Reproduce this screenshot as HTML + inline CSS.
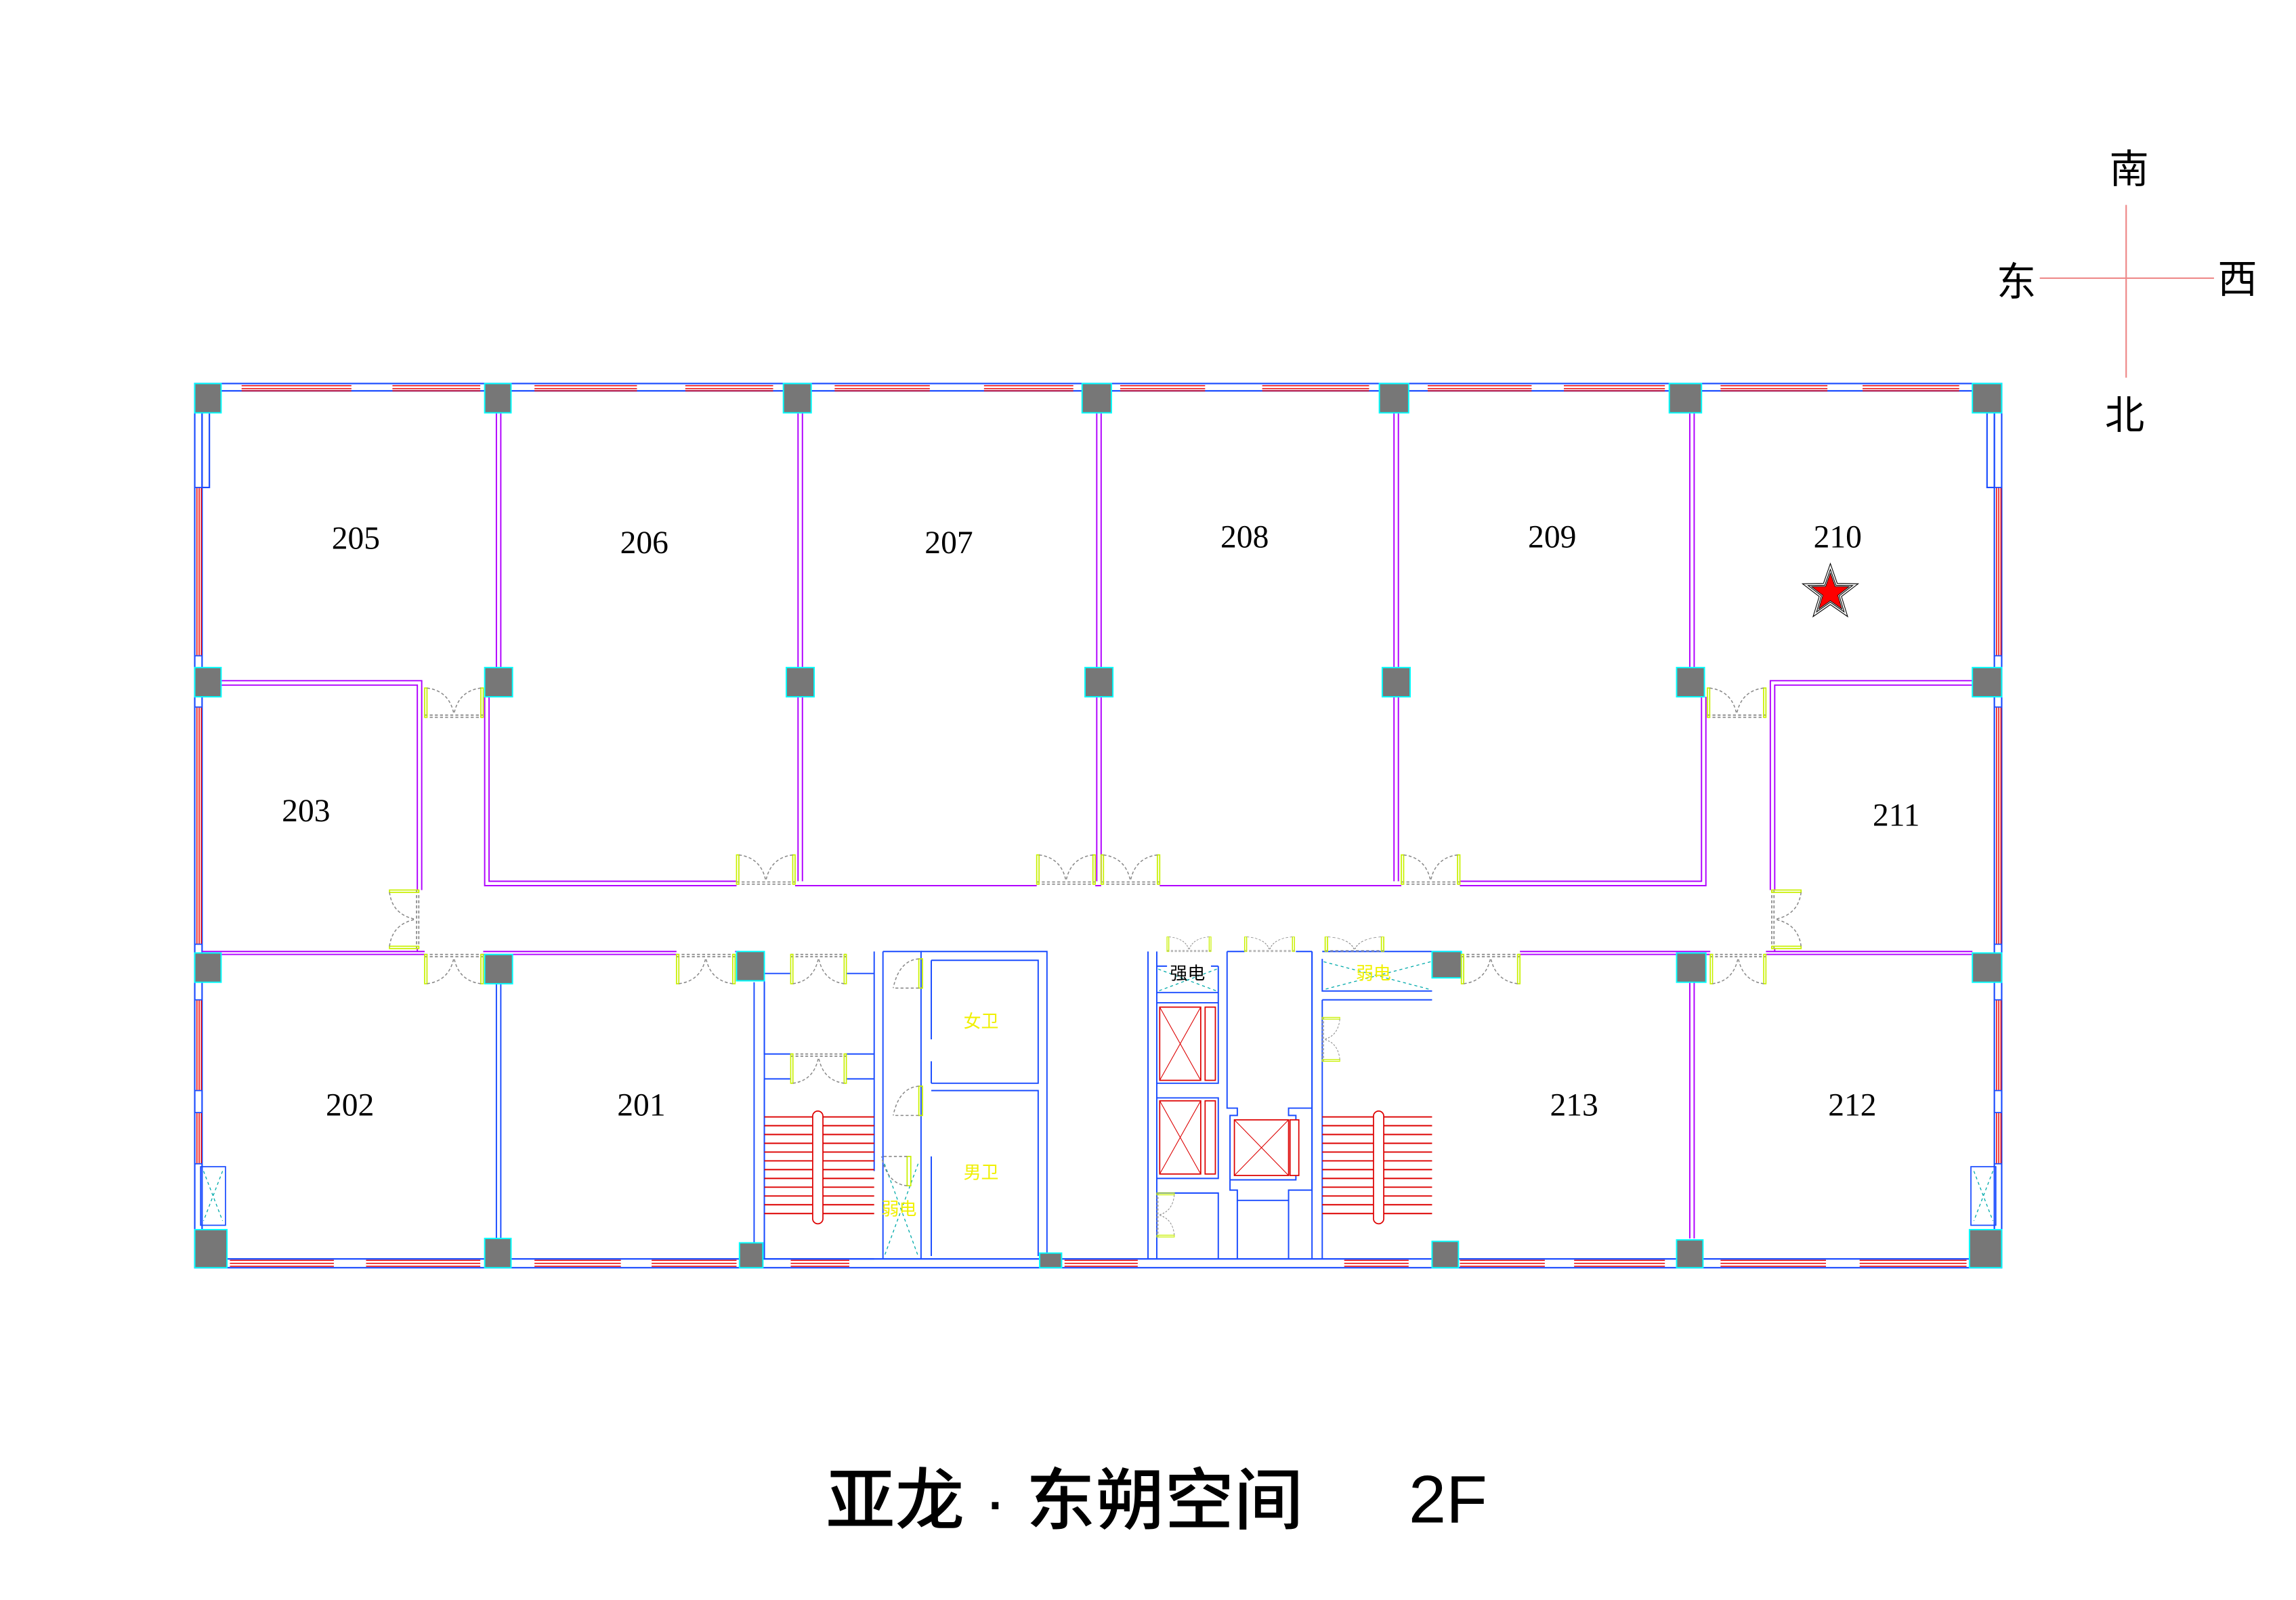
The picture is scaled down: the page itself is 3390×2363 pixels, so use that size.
<!DOCTYPE html>
<html><head><meta charset="utf-8"><style>
html,body{margin:0;padding:0;background:#fff;}
svg{display:block;}
</style></head><body>
<svg width="3390" height="2363" viewBox="0 0 1568 1093" preserveAspectRatio="none" xmlns="http://www.w3.org/2000/svg">
<defs>
<g id="dr">
<line x1="0" y1="0" x2="40" y2="0" stroke="#888" stroke-width="0.8" stroke-dasharray="2,1.5"/>
<line x1="0" y1="1.5" x2="40" y2="1.5" stroke="#888" stroke-width="0.8" stroke-dasharray="2,1.5"/>
<rect x="0" y="0" width="1.6" height="20" fill="none" stroke="#c8f000" stroke-width="0.8"/>
<rect x="38.4" y="0" width="1.6" height="20" fill="none" stroke="#c8f000" stroke-width="0.8"/>
<path d="M1.6 20 Q17 18 20 2 M38.4 20 Q23 18 20 2" fill="none" stroke="#888" stroke-width="0.7" stroke-dasharray="2,1.5"/>
</g>
<g id="sd">
<rect x="0" y="0" width="20" height="2.5" fill="none" stroke="#c8f000" stroke-width="0.8"/>
<path d="M0 2.5 V20 M20 2.5 Q19 16 0 20" fill="none" stroke="#888" stroke-width="0.7" stroke-dasharray="2,1.5"/>
</g>
</defs>

<!-- compass -->
<g stroke="#e88" stroke-width="1">
<line x1="1452" y1="140" x2="1452" y2="258"/>
<line x1="1393" y1="190" x2="1512" y2="190"/>
</g>
<g font-family="'Liberation Sans','Noto Sans CJK SC',sans-serif" font-size="27" fill="#000" text-anchor="middle">
<text x="1454" y="125">南</text>
<text x="1377" y="202">东</text>
<text x="1528" y="200">西</text>
<text x="1451" y="293">北</text>
</g>

<!-- outer walls -->
<g fill="none" stroke="#1a4cff" stroke-width="1">
<rect x="133" y="262" width="1234" height="604"/>
<line x1="133" y1="267" x2="1367" y2="267"/>
<line x1="133" y1="860" x2="1367" y2="860"/>
<line x1="138" y1="282" x2="138" y2="860"/>
<line x1="1362" y1="282" x2="1362" y2="860"/>
<path d="M138 282 V333 H143 V282"/>
<path d="M1362 282 V333 H1357 V282"/>
</g>
<g stroke="#e00" stroke-width="0.7">
<path d="M165 263.5H240M165 265.5H240M165 267H240 M268 263.5H328M268 265.5H328M268 267H328"/>
<path d="M365 263.5H435M365 265.5H435M365 267H435 M468 263.5H528M468 265.5H528M468 267H528"/>
<path d="M570 263.5H635M570 265.5H635M570 267H635 M672 263.5H733M672 265.5H733M672 267H733"/>
<path d="M765 263.5H823M765 265.5H823M765 267H823 M862 263.5H935M862 265.5H935M862 267H935"/>
<path d="M975 263.5H1046M975 265.5H1046M975 267H1046 M1068 263.5H1137M1068 265.5H1137M1068 267H1137"/>
<path d="M1175 263.5H1248M1175 265.5H1248M1175 267H1248 M1272 263.5H1338M1272 265.5H1338M1272 267H1338"/>
<path d="M157 861H228M157 863H228M157 865H228 M250 861H328M250 863H328M250 865H328"/>
<path d="M365 861H424M365 863H424M365 865H424 M445 861H503M445 863H503M445 865H503"/>
<path d="M540 861H580M540 863H580M540 865H580 M727 861H777M727 863H777M727 865H777"/>
<path d="M918 861H962M918 863H962M918 865H962"/>
<path d="M997 861H1055M997 863H1055M997 865H1055 M1075 861H1137M1075 863H1137M1075 865H1137"/>
<path d="M1175 861H1247M1175 863H1247M1175 865H1247 M1270 861H1343M1270 863H1343M1270 865H1343"/>
<path d="M134.5 333V448M136 333V448M137.5 333V448 M134.5 483V645M136 483V645M137.5 483V645 M134.5 683V745M136 683V745M137.5 683V745 M134.5 760V795M136 760V795M137.5 760V795"/>
<path d="M1363.5 333V448M1365 333V448M1366.5 333V448 M1363.5 483V645M1365 483V645M1366.5 483V645 M1363.5 683V745M1365 683V745M1366.5 683V745 M1363.5 760V795M1365 760V795M1366.5 760V795"/>
</g>
<g fill="none" stroke="#1a4cff" stroke-width="0.8">
<path d="M133 333H138 M133 448H138 M133 483H138 M133 645H138 M133 683H138 M133 745H138 M133 760H138 M133 795H138"/>
<path d="M1362 333H1367 M1362 448H1367 M1362 483H1367 M1362 645H1367 M1362 683H1367 M1362 745H1367 M1362 760H1367 M1362 795H1367"/>
<rect x="137" y="797" width="17" height="40"/>
<rect x="1346" y="797" width="17" height="40"/>
</g>

<!-- magenta partitions -->
<g fill="none" stroke="#b000ff" stroke-width="0.9">
<path d="M339 282V456 M342 282V456"/>
<path d="M545 282V456 M548 282V456"/>
<path d="M749 282V456 M752 282V456"/>
<path d="M952 282V456 M955 282V456"/>
<path d="M1154 282V456 M1157 282V456"/>
<path d="M331 476V605H503 M334 476V602H503"/>
<path d="M545 476V602 M548 476V602"/>
<path d="M749 476V602 M752 476V602"/>
<path d="M952 476V602 M955 476V602"/>
<path d="M543 605H708 M748 605H752 M792 605H957 M997 605H1165V476 M997 602H1162V476"/>
<path d="M151 465H288V608 M151 468H285V608"/>
<path d="M1347 465H1209V608 M1347 468H1212V608"/>
<path d="M138 650H290 M138 652H290 M330 650H462 M330 652H462 M502 650H505"/>
<path d="M978 650H998 M978 652H998 M1038 650H1168 M1038 652H1168 M1206 650H1347 M1206 652H1347"/>
<path d="M285 648V650 M1212 648V650"/>
<path d="M1154 671V846 M1157 671V846"/>
</g>
<g fill="none" stroke="#1a4cff" stroke-width="0.9">
<path d="M339 671V846 M342 671V846"/>
</g>

<!-- core -->
<g fill="none" stroke="#1a4cff" stroke-width="0.9">
<path d="M515 671V860 M522 671V860"/>
<path d="M522 665H540 M578 665H597V760 M603 650V860 M597 650V665 M522 665V720H540 M578 720H597 M522 737V860H597 M540 737H522 M578 737H597 V800"/>
<path d="M603 650H629V860 M636 790V858"/>
<path d="M629 650H715V858 M636 656H709V740H636 M636 745H709V858 M636 656V710 M636 725V740"/>
<path d="M784 650V860 M790 650V860 M790 660H797 M827 660H832 M790 678H832 M790 685H832V740H790 M790 750H832V805H790 M790 815H832V860 M832 660V685"/>
<path d="M838 650V757H845V762H840V806H885V762H880V757H896V650 M838 650H850 M885 650H896 M840 806V813H845V820H880V813H896V660"/>
<path d="M845 820V860 M880 820V860"/>
<path d="M903 650H978 M903 655V677H978 M903 683H978 M903 683V860 M896 650V860"/>
</g>
<g stroke="#d00" stroke-width="0.9" fill="none">
<path d="M522 763H597 M522 769H597 M522 775H597 M522 781H597 M522 787H597 M522 793H597 M522 799H597 M522 805H597 M522 811H597 M522 817H597 M522 823H597 M522 829H597"/>
<path d="M903 763H978 M903 769H978 M903 775H978 M903 781H978 M903 787H978 M903 793H978 M903 799H978 M903 805H978 M903 811H978 M903 817H978 M903 823H978 M903 829H978"/>
</g>
<g stroke="#d00" stroke-width="0.8" fill="#fff">
<rect x="555" y="759" width="7" height="77" rx="3.5"/>
<rect x="938" y="759" width="7" height="77" rx="3.5"/>
<rect x="792" y="688" width="28" height="50"/><rect x="823" y="688" width="7" height="50"/>
<rect x="792" y="752" width="28" height="50"/><rect x="823" y="752" width="7" height="50"/>
<rect x="843" y="765" width="37" height="38"/><rect x="881" y="765" width="6" height="38"/>
</g>
<g stroke="#d00" stroke-width="0.5" fill="none">
<path d="M792 688L820 738M820 688L792 738 M792 752L820 802M820 752L792 802 M843 765L880 803M880 765L843 803"/>
</g>
<g stroke="#0aa" stroke-width="0.6" stroke-dasharray="2,2" fill="none">
<path d="M604 795L627 858M627 795L604 858"/>
<path d="M904 657L977 676M977 657L904 676"/>
<path d="M791 662L831 677M831 662L791 677"/>
<path d="M139 800L152 834M152 800L139 834 M1348 800L1361 834M1361 800L1348 834"/>
</g>

<!-- columns -->
<g fill="#777" stroke="#0ff" stroke-width="0.9">
<rect x="133" y="262" width="18" height="20"/>
<rect x="331" y="262" width="18" height="20"/>
<rect x="535" y="262" width="19" height="20"/>
<rect x="739" y="262" width="20" height="20"/>
<rect x="942" y="262" width="20" height="20"/>
<rect x="1140" y="262" width="22" height="20"/>
<rect x="1347" y="262" width="20" height="20"/>
<rect x="133" y="456" width="18" height="20"/>
<rect x="331" y="456" width="19" height="20"/>
<rect x="537" y="456" width="19" height="20"/>
<rect x="741" y="456" width="19" height="20"/>
<rect x="944" y="456" width="19" height="20"/>
<rect x="1145" y="456" width="19" height="20"/>
<rect x="1347" y="456" width="20" height="20"/>
<rect x="133" y="651" width="18" height="20"/>
<rect x="331" y="652" width="19" height="20"/>
<rect x="503" y="650" width="19" height="20"/>
<rect x="978" y="650" width="20" height="18"/>
<rect x="1145" y="651" width="20" height="20"/>
<rect x="1347" y="651" width="20" height="20"/>
<rect x="133" y="840" width="22" height="26"/>
<rect x="331" y="846" width="18" height="20"/>
<rect x="505" y="849" width="16" height="17"/>
<rect x="710" y="856" width="15" height="10"/>
<rect x="978" y="848" width="18" height="18"/>
<rect x="1145" y="847" width="18" height="19"/>
<rect x="1345" y="840" width="22" height="26"/>
</g>

<!-- doors -->
<use href="#dr" transform="translate(290,490) scale(1,-1)"/>
<use href="#dr" transform="translate(503,604) scale(1,-1)"/>
<use href="#dr" transform="translate(708,604) scale(1,-1)"/>
<use href="#dr" transform="translate(752,604) scale(1,-1)"/>
<use href="#dr" transform="translate(957,604) scale(1,-1)"/>
<use href="#dr" transform="translate(1166,490) scale(1,-1)"/>
<use href="#dr" transform="translate(286,608) rotate(90)"/>
<use href="#dr" transform="translate(1210,608) rotate(90) scale(1,-1)"/>
<use href="#dr" transform="translate(290,652)"/>
<use href="#dr" transform="translate(462,652)"/>
<use href="#dr" transform="translate(540,652) scale(0.95,1)"/>
<use href="#dr" transform="translate(540,720) scale(0.95,1)"/>
<use href="#dr" transform="translate(998,652)"/>
<use href="#dr" transform="translate(1168,652) scale(0.95,1)"/>
<use href="#dr" transform="translate(797,650) scale(0.75,-0.5)"/>
<use href="#dr" transform="translate(850,650) scale(0.85,-0.5)"/>
<use href="#dr" transform="translate(905,650) scale(1,-0.5)"/>
<use href="#dr" transform="translate(903,695) rotate(90) scale(0.75,-0.6)"/>
<use href="#dr" transform="translate(790,815) rotate(90) scale(0.75,-0.6)"/>
<use href="#sd" transform="translate(630,675) rotate(-90) scale(1,-1)"/>
<use href="#sd" transform="translate(630,762) rotate(-90) scale(1,-1)"/>
<use href="#sd" transform="translate(622,790) rotate(90) scale(1,1)"/>

<g font-family="'Liberation Sans','Noto Sans CJK SC',sans-serif" font-size="12" fill="#f0f000" text-anchor="middle">
<text x="670" y="702">女卫</text>
<text x="670" y="805">男卫</text>
<text x="614" y="830">弱电</text>
<text x="938" y="669">弱电</text>
</g>
<text x="811" y="669" font-family="'Liberation Sans','Noto Sans CJK SC',sans-serif" font-size="12" fill="#000" text-anchor="middle">强电</text>

<g font-family="'Liberation Serif',serif" font-size="22" fill="#000" text-anchor="middle">
<text x="243" y="375">205</text>
<text x="440" y="378">206</text>
<text x="648" y="378">207</text>
<text x="850" y="374">208</text>
<text x="1060" y="374">209</text>
<text x="1255" y="374">210</text>
<text x="209" y="561">203</text>
<text x="1295" y="564">211</text>
<text x="239" y="762">202</text>
<text x="438" y="762">201</text>
<text x="1075" y="762">213</text>
<text x="1265" y="762">212</text>
</g>

<g transform="translate(1250,405)">
<polygon points="0,-20 4.7,-6.5 19,-6.2 7.6,2.5 11.8,16.2 0,8 -11.8,16.2 -7.6,2.5 -19,-6.2 -4.7,-6.5" fill="#fff" stroke="#000" stroke-width="0.5"/>
<polygon points="0,-16 3.8,-5.2 15.2,-5 6.1,2 9.4,13 0,6.4 -9.4,13 -6.1,2 -15.2,-5 -3.8,-5.2" fill="#fff" stroke="#000" stroke-width="0.5"/>
<polygon points="0,-13.5 3.2,-4.4 12.8,-4.2 5.1,1.7 7.9,11 0,5.4 -7.9,11 -5.1,1.7 -12.8,-4.2 -3.2,-4.4" fill="#f00" stroke="#000" stroke-width="0.4"/>
</g>

<g font-family="'Liberation Sans','Noto Sans CJK SC',sans-serif" font-weight="500" font-size="46" fill="#000">
<text x="564" y="1041" textLength="326" lengthAdjust="spacingAndGlyphs">亚龙 · 东朔空间</text>
<text x="962" y="1040" font-weight="normal">2F</text>
</g>
</svg>
</body></html>
